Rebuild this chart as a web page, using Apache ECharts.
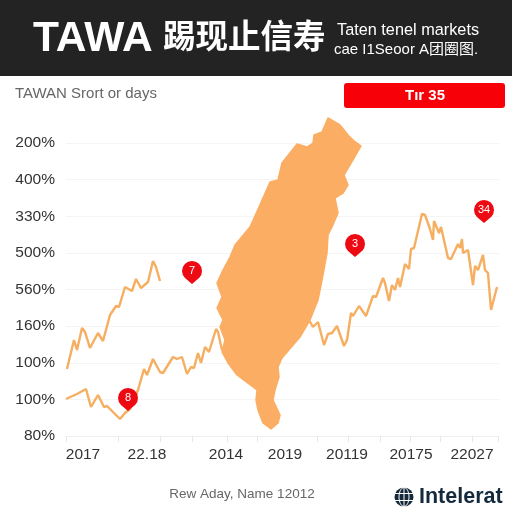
<!DOCTYPE html>
<html><head><meta charset="utf-8">
<style>html,body{margin:0;padding:0;background:#fff}#c{width:512px;height:512px}</style>
<script src="https://cdn.jsdelivr.net/npm/echarts@6/dist/echarts.min.js"></script>
</head><body><div id="c"></div>
<script>
const yLabels = ['80%','100%','100%','160%','560%','500%','330%','400%','200%'];
const xLabelPos = [17,81,160,219,281,345,406];
const xLabels = ['2017','22.18','2014','2019','20119','20175','22027'];
const xTickPos = [0,52,94,126,161,191,251,282,314,344,374,406,432];
const upperX = [1,3,8,11,16,19,24,32,37,44,50,53,59,66,70,75,82,87,90,94];
const upperY = [67,69,96,86,108,104,88,103,95,121,130,129,149,145,157,148,154,175,169,155];
const lowerX = [0,11,20,25,32,38,41,54,59,64,72,78,81,87,94,97,107,111,116,121,125,128,132,135,139,143,150,152,156,
  243,247,252,258,262,266,271,278,281,285,287,289,293,295,300,307,310,317,319,323,326,329,332,334,339,343,345,348,356,359,364,367,368,370,373,375,382,385,392,394,396,397,402,407,409,412,417,419,422,425,431];
const lowerY = [37,42,47,29,41,29,30,17,23,27,46,67,61,77,64,63,79,77,79,62,69,68,83,73,89,84,107,104,86,
  116,109,114,91,102,103,110,90,96,123,120,121,130,129,120,140,139,158,153,135,151,146,158,149,172,167,187,188,222,221,207,196,215,216,203,209,178,177,192,188,197,183,186,151,170,166,181,166,163,126,149];
const islandX = [262,274,282,287,295,287,278,282,277,269,272,266,262,261,256,252,244,234,216,212,213,209,207,214,212,205,197,192,190,191,179,171,162,156,159,154,157,151,156,151,157,164,169,184,193,204,212,216,231,241,247,248,256];
const islandY = [318,311,301,296,290,276,261,251,243,238,223,209,201,183,156,136,116,99,78,69,59,46,36,21,13,7,13,26,36,46,55,61,73,84,96,109,116,128,139,153,166,179,191,209,229,254,256,273,292,289,293,301,304];
const pinX = [126,62,289,418];
const pinY = [152,25,179,213];
const pinLabels = ['7','8','3','34'];

const zip = (a,b) => a.map((v,i)=>[v,b[i]]);
const lineColor = '#F6AE60', islandColor = '#FBAE63';
const chart = echarts.init(document.getElementById('c'), null, {renderer:'canvas'});
const txt = (x,y,text,size,fill,opt={}) => ({type:'text',x,y,z:10,style:Object.assign({text,fontSize:size,fill,fontFamily:'"Liberation Sans","Noto Sans CJK SC",sans-serif',textVerticalAlign:'middle'},opt)});
chart.setOption({
  animation:false,
  backgroundColor:'#fff',
  grid:{left:66,right:13,top:143,bottom:76,containLabel:false},
  xAxis:{type:'value',min:0,max:433,splitLine:{show:false},
    axisLine:{show:true,onZero:false,lineStyle:{color:'#EFEFEF'}},
    axisTick:{show:true,customValues:xTickPos,length:6,lineStyle:{color:'#E8E8E8'}},
    axisLabel:{customValues:xLabelPos,margin:11,fontSize:15.5,color:'#333',fontFamily:'"Liberation Sans",sans-serif',
      formatter:v=>xLabels[xLabelPos.indexOf(v)]}},
  yAxis:{type:'value',min:0,max:293,interval:36.625,
    axisLine:{show:false},axisTick:{show:false},
    splitLine:{lineStyle:{color:'#F4F4F4'}},
    axisLabel:{margin:11,fontSize:15.5,color:'#333',fontFamily:'"Liberation Sans",sans-serif',
      formatter:v=>yLabels[Math.round(v/36.625)]}},
  series:[
    {type:'line',data:zip(upperX,upperY),showSymbol:false,lineStyle:{color:lineColor,width:2.4},z:2},
    {type:'line',data:zip(lowerX,lowerY),showSymbol:false,lineStyle:{color:lineColor,width:2.4},z:2},
    {type:'custom',clip:false,z:3,data:zip(islandX,islandY),
      renderItem:(p,api)=> p.dataIndex!==0?null:({type:'polygon',
        shape:{points:islandX.map((x,i)=>api.coord([x,islandY[i]]))},
        style:{fill:islandColor,stroke:islandColor,lineWidth:1.5,lineJoin:'round'}})},
    {type:'scatter',z:5,clip:false,symbol:'path://M10 23 L3 17.1 A10 10 0 1 1 17 17.1 Z',symbolSize:[20,23],symbolOffset:[0,-11.5],
      data:pinX.map((x,i)=>({value:[x,pinY[i]],name:pinLabels[i]})),
      itemStyle:{color:'#EE0A12',opacity:1},
      label:{show:true,position:'inside',offset:[0,-2],formatter:p=>p.name,color:'#fff',fontSize:11,fontFamily:'"Liberation Sans",sans-serif'}}
  ],
  graphic:[
    {type:'rect',shape:{x:0,y:0,width:512,height:76},style:{fill:'#232324'},z:1},
    txt(33,39,'TAWA',42.5,'#fff',{fontWeight:'bold'}),
    txt(163,39,'踢现止信寿',32.5,'#fff',{fontWeight:'bold'}),
    txt(337,31,'Taten tenel markets',16.3,'#fff'),
    txt(334,49.5,'cae I1Seoor A团圈图.',15,'#fff'),
    txt(15,94,'TAWAN Srort or days',15,'#666'),
    {type:'rect',shape:{x:344,y:83,width:161,height:25,r:3},style:{fill:'#F70008'},z:2},
    txt(425,96,'Tır 35',15,'#fff',{textAlign:'center',fontWeight:'bold'}),
    txt(242,494,'Rew Aday, Name 12012',13.5,'#666',{textAlign:'center'}),
    txt(419,497,'Intelerat',21.5,'#14293B',{fontWeight:'bold'}),
    {type:'group',x:404,y:497,z:10,children:[
      {type:'circle',shape:{cx:0,cy:0,r:9.5},style:{fill:'#14293B'}},
      {type:'line',shape:{x1:-9,y1:-3.5,x2:9,y2:-3.5},style:{stroke:'#fff',lineWidth:1}},
      {type:'line',shape:{x1:-9,y1:3.5,x2:9,y2:3.5},style:{stroke:'#fff',lineWidth:1}},
      {type:'line',shape:{x1:0,y1:-9,x2:0,y2:9},style:{stroke:'#fff',lineWidth:1}},
      {type:'ellipse',shape:{cx:0,cy:0,rx:5,ry:9.5},style:{fill:'none',stroke:'#fff',lineWidth:1}}
    ]}
  ]
});
</script></body></html>
